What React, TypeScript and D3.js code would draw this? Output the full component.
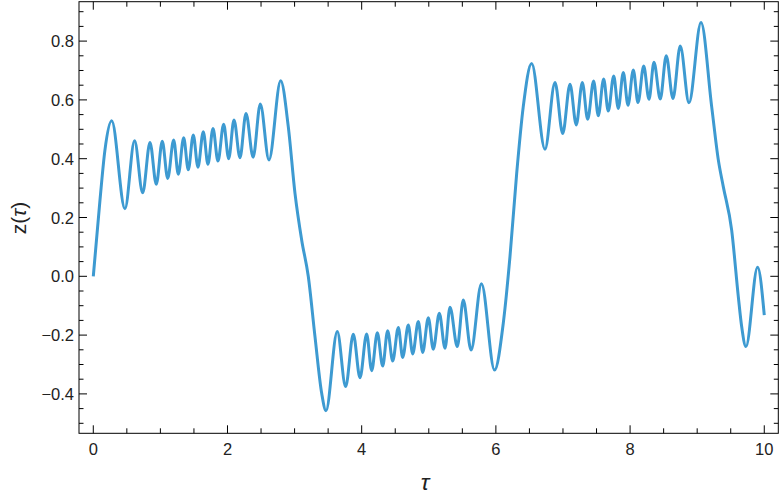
import React from 'react'
import * as d3 from 'd3'

// values (extrema plus a few points on the steep parts)
const tau = [
  0, 0.1, 0.174, 0.274, 0.472, 0.615, 0.736, 0.845, 0.939, 1.028, 1.109, 1.198, 1.267, 1.347, 1.416,
  1.49, 1.56, 1.639, 1.709, 1.784, 1.858, 1.943, 2.018, 2.097, 2.186, 2.276, 2.382, 2.489, 2.618,
  2.793, 2.906, 3.006, 3.106, 3.204, 3.304, 3.404, 3.468, 3.636, 3.761, 3.875, 3.975, 4.074, 4.149,
  4.233, 4.313, 4.387, 4.462, 4.546, 4.611, 4.695, 4.76, 4.844, 4.909, 4.993, 5.067, 5.157, 5.242,
  5.316, 5.425, 5.514, 5.63, 5.785, 5.98, 6.11, 6.21, 6.31, 6.408, 6.533, 6.732, 6.881, 6.996, 7.105,
  7.198, 7.288, 7.368, 7.457, 7.526, 7.606, 7.675, 7.756, 7.824, 7.899, 7.969, 8.048, 8.118, 8.203,
  8.282, 8.356, 8.45, 8.539, 8.639, 8.748, 8.878, 9.057, 9.216, 9.315, 9.389, 9.514, 9.613, 9.663,
  9.727, 9.9, 10.0,
]
const zVals = [
  0, 0.26, 0.43, 0.529, 0.23, 0.461, 0.284, 0.455, 0.313, 0.459, 0.333, 0.464, 0.347, 0.471, 0.362,
  0.481, 0.371, 0.492, 0.381, 0.503, 0.392, 0.517, 0.4, 0.532, 0.403, 0.554, 0.405, 0.586, 0.396,
  0.665, 0.509, 0.282, 0.123, 0.0, -0.205, -0.398, -0.457, -0.188, -0.375, -0.197, -0.345, -0.196, -0.321,
  -0.192, -0.305, -0.185, -0.288, -0.174, -0.276, -0.166, -0.264, -0.154, -0.259, -0.141, -0.248, -0.126, -0.245,
  -0.105, -0.239, -0.081, -0.251, -0.025, -0.319, -0.16, 0.067, 0.35, 0.577, 0.724, 0.432, 0.659, 0.486, 0.653,
  0.515, 0.659, 0.534, 0.664, 0.546, 0.671, 0.562, 0.681, 0.571, 0.693, 0.582, 0.702, 0.591, 0.715,
  0.602, 0.728, 0.603, 0.75, 0.605, 0.783, 0.59, 0.863, 0.577, 0.396, 0.305, 0.157, -0.069, -0.171,
  -0.239, 0.031, -0.132,
]
const xTickLabels = [0, 2, 4, 6, 8, 10]
const yTickLabels = [-0.4, -0.2, 0, 0.2, 0.4, 0.6, 0.8]

const W = 780
const H = 497
const left = 79
const right = 778.3
const top = 1.7
const bottom = 433.3
const font = 'Liberation Sans, Arial, sans-serif'

const App = () => {
  const x = d3.scaleLinear().domain([-0.213, 10.209]).range([left, right])
  const y = d3.scaleLinear().domain([-0.534, 0.934]).range([bottom, top])

  const pts: [number, number][] = tau.map((t, i) => [t, zVals[i]])
  const line = d3
    .line<[number, number]>()
    .x(d => x(d[0]))
    .y(d => y(d[1]))
    .curve(d3.curveMonotoneX)

  const xMinor = d3.range(0, 10.01, 0.5)
  const yMinor = d3.range(-0.5, 0.91, 0.05).map(v => Math.round(v * 100) / 100)
  const isMajorX = (v: number) => Math.abs(v / 2 - Math.round(v / 2)) < 1e-6
  const isMajorY = (v: number) => Math.abs(v / 0.2 - Math.round(v / 0.2)) < 1e-6
  const fmtY = (v: number) => (v < 0 ? '\u2212' : '') + Math.abs(v).toFixed(1)

  return (
    <svg width={W} height={H} style={{ position: 'absolute', left: 0, top: 0 }}>
      <rect x={0} y={0} width={W} height={H} fill="#fff" />
      <path d={line(pts) || ''} fill="none" stroke="#3d9ad1" strokeWidth={3} strokeLinejoin="round" />
      <g stroke="#000" strokeWidth={1}>
        {xMinor.map(v => {
          const len = isMajorX(v) ? 8 : 5
          return (
            <g key={'x' + v}>
              <line x1={x(v)} x2={x(v)} y1={bottom} y2={bottom - len} />
              <line x1={x(v)} x2={x(v)} y1={top} y2={top + len} />
            </g>
          )
        })}
        {yMinor.map(v => {
          const len = isMajorY(v) ? 8 : 4.5
          return (
            <g key={'y' + v}>
              <line x1={left} x2={left + len} y1={y(v)} y2={y(v)} />
              <line x1={right} x2={right - len} y1={y(v)} y2={y(v)} />
            </g>
          )
        })}
        <rect x={left} y={top} width={right - left} height={bottom - top} fill="none" />
      </g>
      <g fontFamily={font} fontSize={16.5} fill="#222">
        {xTickLabels.map(v => (
          <text key={'xl' + v} x={x(v)} y={455} textAnchor="middle">
            {v}
          </text>
        ))}
        {yTickLabels.map(v => (
          <text key={'yl' + v} x={74} y={y(v) + 6} textAnchor="end">
            {fmtY(v)}
          </text>
        ))}
      </g>
      <text x={425} y={490} textAnchor="middle" fontFamily={font} fontSize={23} fontStyle="italic" fill="#222">
        τ
      </text>
      <text
        transform={`translate(26,218) rotate(-90)`}
        textAnchor="middle"
        fontFamily={font}
        fontSize={21}
        fill="#222"
      >
        z(<tspan fontStyle="italic">τ</tspan>)
      </text>
    </svg>
  )
}

export default App
